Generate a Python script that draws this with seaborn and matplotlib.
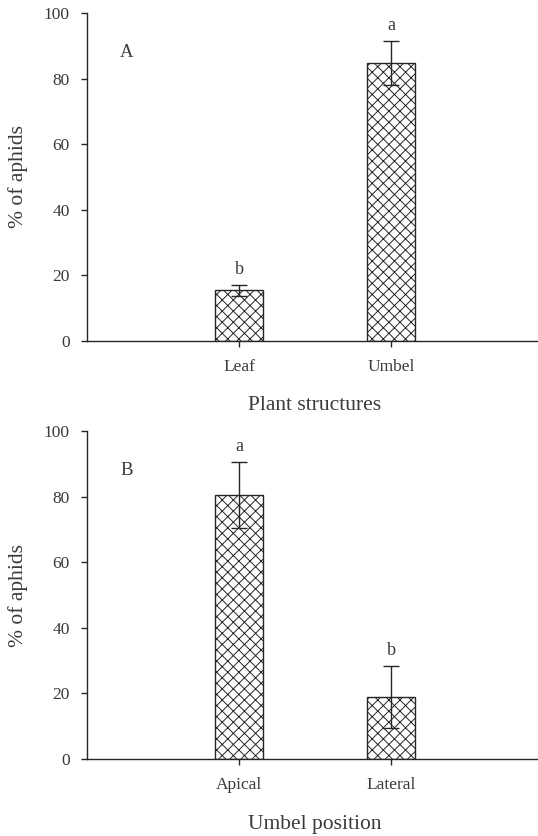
import matplotlib
matplotlib.use('Agg')
import matplotlib.pyplot as plt
import seaborn as sns
import pandas as pd

# panel A: plant structures
structures = ['Leaf', 'Umbel']
structure_mean = [15.3, 84.7]
structure_err = [1.7, 6.7]
structure_letters = ['b', 'a']

# panel B: umbel position
positions = ['Apical', 'Lateral']
position_mean = [80.6, 18.9]
position_err = [10.0, 9.4]
position_letters = ['a', 'b']

y_ticks = [0, 20, 40, 60, 80, 100]

TEXT = '#3a3a3a'
LINE = '#262626'

sns.set_style('ticks')
plt.rcParams['font.family'] = ['Liberation Serif', 'DejaVu Serif']
plt.rcParams['hatch.linewidth'] = 0.7
plt.rcParams['text.color'] = TEXT
plt.rcParams['axes.labelcolor'] = TEXT


def draw_panel(ax, cats, means, errs, letters, panel, xlabel):
    df = pd.DataFrame({'cat': cats, 'mean': means})
    sns.barplot(data=df, x='cat', y='mean', ax=ax, color='white',
                edgecolor=LINE, linewidth=1.0, width=0.316,
                errorbar=None, saturation=1)
    for p in ax.patches:
        p.set_hatch('xxx')

    ax.errorbar(x=list(range(len(cats))), y=means, yerr=errs, fmt='none',
                ecolor=LINE, elinewidth=1.0, capsize=5.8, capthick=1.0)

    for i, (m, e, lab) in enumerate(zip(means, errs, letters)):
        ax.text(i, m + e + 2.2, lab, ha='center', va='bottom',
                fontsize=13, color=TEXT)

    ax.text(-0.74, 88, panel, ha='center', va='center', fontsize=13.5,
            color=TEXT)

    ax.set_xlim(-1, 2)
    ax.set_ylim(0, 100)
    ax.set_yticks(y_ticks)
    sns.despine(ax=ax)
    ax.spines['left'].set_bounds(0, 100)
    for s in ('left', 'bottom'):
        ax.spines[s].set_color(LINE)
        ax.spines[s].set_linewidth(1.0)

    ax.tick_params(axis='both', direction='out', length=4, width=1,
                   color=LINE, labelcolor=TEXT, labelsize=12.5)
    ax.tick_params(axis='x', pad=9)
    ax.tick_params(axis='y', pad=8.5)

    ax.set_ylabel('% of aphids', fontsize=15.5)
    ax.yaxis.set_label_coords(-0.151, 0.5)
    ax.yaxis.label.set_va('center')
    ax.set_xlabel(xlabel, fontsize=15.5)
    ax.xaxis.set_label_coords(0.5, -0.2)
    ax.xaxis.label.set_va('center')


fig = plt.figure(figsize=(5.38, 8.36), dpi=100)
ax_a = fig.add_axes([0.1617, 0.5927, 0.8476, 0.3914])
ax_b = fig.add_axes([0.1617, 0.0925, 0.8476, 0.3914])

draw_panel(ax_a, structures, structure_mean, structure_err,
           structure_letters, 'A', 'Plant structures')
draw_panel(ax_b, positions, position_mean, position_err,
           position_letters, 'B', 'Umbel position')

fig.savefig('out.png', dpi=100)
plt.close(fig)
